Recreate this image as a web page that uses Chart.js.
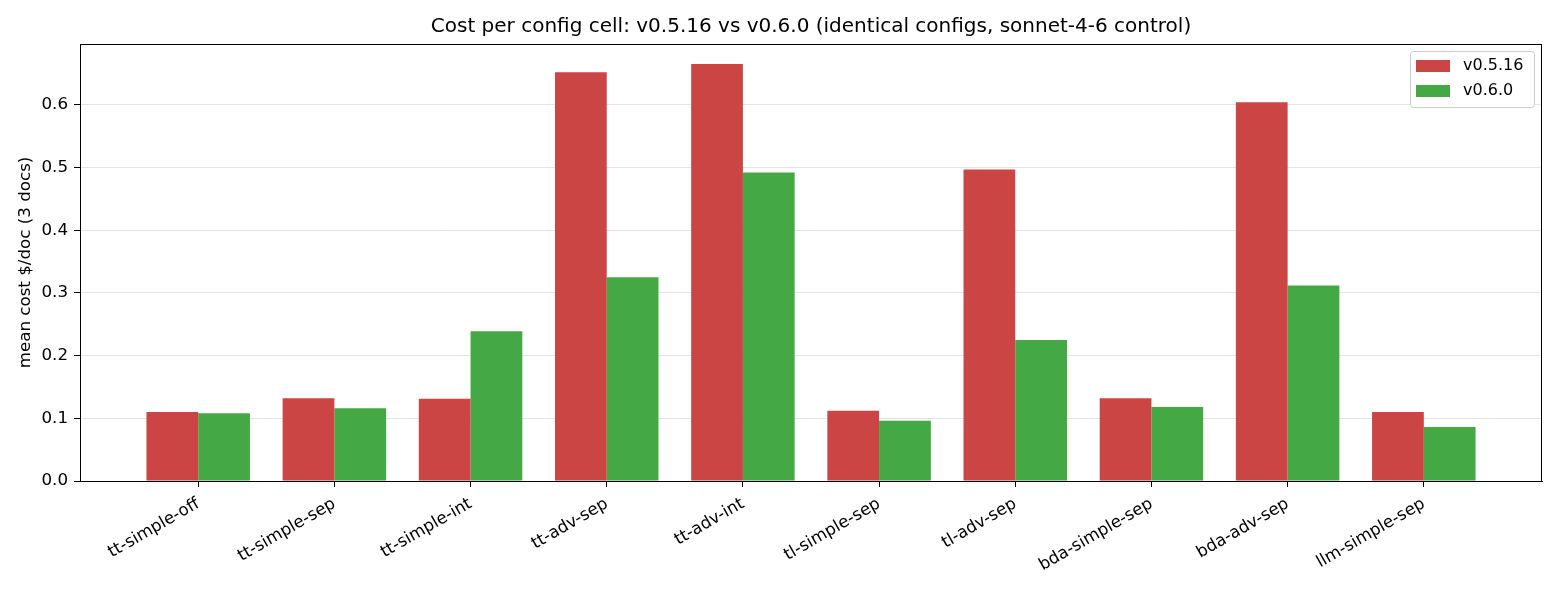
<!DOCTYPE html>
<html lang="en">
<head>
    <meta charset="UTF-8">
    <title>Cost per config cell</title>
    <script src="https://cdn.jsdelivr.net/npm/chart.js"></script>
    <style>
        html, body { margin: 0; padding: 0; background: #fff; }
        #wrap { width: 1560px; height: 600px; }
    </style>
</head>
<body>
    <div id="wrap"><canvas id="costChart" width="1560" height="600"></canvas></div>

    <script>
        // data
        const configs = ['tt-simple-off', 'tt-simple-sep', 'tt-simple-int', 'tt-adv-sep', 'tt-adv-int',
                         'tl-simple-sep', 'tl-adv-sep', 'bda-simple-sep', 'bda-adv-sep', 'llm-simple-sep'];
        const costOld = [0.110, 0.132, 0.131, 0.652, 0.665, 0.112, 0.497, 0.132, 0.604, 0.110];
        const costNew = [0.108, 0.116, 0.239, 0.325, 0.492, 0.096, 0.225, 0.118, 0.312, 0.086];
        const yTicks = [0, 0.1, 0.2, 0.3, 0.4, 0.5, 0.6];
        const chartTitle = 'Cost per config cell: v0.5.16 vs v0.6.0 (identical configs, sonnet-4-6 control)';

        const FONT = 'DejaVu Sans';
        const FS = 16.7;
        Chart.defaults.font.family = FONT;
        Chart.defaults.color = '#000';

        // title centred over the axes, frame around the plot, legend box
        const framePlugin = {
            id: 'frame',
            afterDraw(chart) {
                const ctx = chart.ctx, a = chart.chartArea;
                ctx.save();

                ctx.font = '20px ' + FONT;
                ctx.fillStyle = '#000';
                ctx.textAlign = 'center';
                ctx.textBaseline = 'middle';
                ctx.fillText(chartTitle, (a.left + a.right) / 2, 27);

                ctx.strokeStyle = '#000';
                ctx.lineWidth = 1;
                ctx.strokeRect(Math.round(a.left) + 0.5, Math.round(a.top) + 0.5,
                               Math.round(a.right - a.left) - 1, Math.round(a.bottom - a.top));

                // legend
                const bx = a.right - 132, by = a.top + 7, bw = 124, bh = 56;
                ctx.fillStyle = 'rgba(255,255,255,0.8)';
                ctx.strokeStyle = '#cccccc';
                ctx.beginPath();
                ctx.roundRect(bx + 0.5, by + 0.5, bw, bh, 3);
                ctx.fill();
                ctx.stroke();
                ctx.font = '16px ' + FONT;
                ctx.textAlign = 'left';
                chart.data.datasets.forEach((ds, i) => {
                    const ry = by + 9 + i * 25;
                    ctx.fillStyle = ds.backgroundColor;
                    ctx.fillRect(bx + 6, ry, 34, 12);
                    ctx.fillStyle = '#000';
                    ctx.fillText(ds.label, bx + 53, ry + 6);
                });
                ctx.restore();
            }
        };

        const toPoints = arr => arr.map((v, i) => ({ x: i, y: v }));

        new Chart(document.getElementById('costChart'), {
            type: 'bar',
            data: {
                datasets: [
                    { label: 'v0.5.16', data: toPoints(costOld), backgroundColor: '#cc4545' },
                    { label: 'v0.6.0', data: toPoints(costNew), backgroundColor: '#44a944' }
                ]
            },
            options: {
                responsive: false,
                animation: false,
                devicePixelRatio: 1,
                layout: { padding: { left: 0, right: 18, top: 44, bottom: 0 } },
                datasets: { bar: { categoryPercentage: 0.76, barPercentage: 1.0, borderWidth: 0 } },
                plugins: {
                    legend: { display: false },
                    tooltip: { enabled: false },
                    title: { display: false }
                },
                scales: {
                    x: {
                        type: 'linear',
                        offset: false,
                        min: -0.868,
                        max: 9.868,
                        afterBuildTicks: s => { s.ticks = configs.map((c, i) => ({ value: i })); },
                        afterFit: s => { s.height = 119; },
                        ticks: {
                            callback: v => configs[v],
                            autoSkip: false,
                            maxRotation: 30,
                            minRotation: 30,
                            padding: 7,
                            font: { size: FS },
                            color: '#000'
                        },
                        grid: { display: true, offset: false, drawOnChartArea: false, tickLength: 6, color: '#000' },
                        border: { display: true, color: '#000' }
                    },
                    y: {
                        min: 0,
                        max: 0.697,
                        z: 1,
                        afterBuildTicks: s => { s.ticks = yTicks.map(v => ({ value: v })); },
                        afterFit: s => { s.width = 80; },
                        ticks: {
                            callback: v => v.toFixed(1),
                            padding: 6,
                            font: { size: FS },
                            color: '#000'
                        },
                        grid: {
                            color: 'rgba(215,215,215,0.7)',
                            tickColor: '#000',
                            tickLength: 6,
                            lineWidth: 1
                        },
                        border: { display: true, color: '#000' },
                        title: {
                            display: true,
                            text: 'mean cost $/doc (3 docs)',
                            font: { size: FS },
                            color: '#000',
                            padding: { top: 16, bottom: 0 }
                        }
                    }
                }
            },
            plugins: [framePlugin]
        });
    </script>
</body>
</html>
